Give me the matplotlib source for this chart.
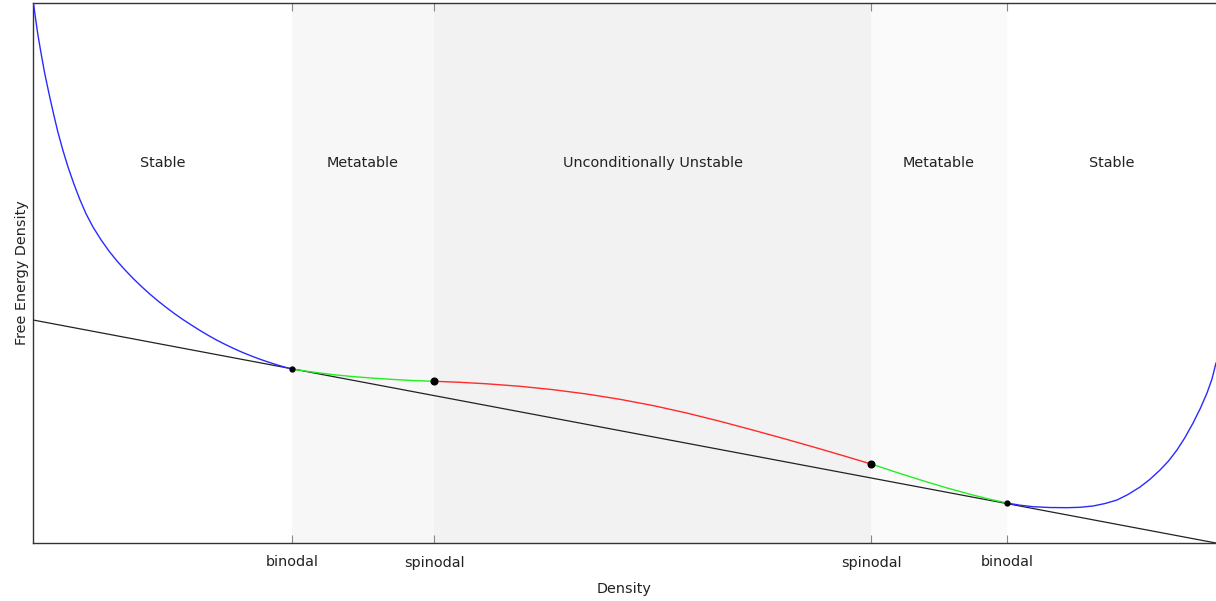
import numpy as np
import matplotlib.pyplot as plt

# ----------------
# DATA
# ----------------

# free energy density vs density, split into stable / metastable / unstable branches
stable_lo_x = [0.0004, 0.0021, 0.0042, 0.0068, 0.0097, 0.0123, 0.0146, 0.0178,
               0.0211, 0.0254, 0.0296, 0.0347, 0.0395, 0.0448, 0.0507, 0.0575,
               0.0642, 0.0710, 0.0778, 0.0845, 0.0917, 0.0989, 0.1059, 0.1130,
               0.1200, 0.1271, 0.1342, 0.1412, 0.1483, 0.1553, 0.1624, 0.1695,
               0.1765, 0.1836, 0.1906, 0.1977, 0.2048, 0.2118, 0.2189]
stable_lo_f = [1.0000, 0.9719, 0.9404, 0.9070, 0.8720, 0.8448, 0.8215, 0.7907,
               0.7604, 0.7263, 0.6963, 0.6641, 0.6367, 0.6098, 0.5852, 0.5615,
               0.5407, 0.5222, 0.5056, 0.4902, 0.4750, 0.4607, 0.4478, 0.4356,
               0.4241, 0.4133, 0.4032, 0.3935, 0.3843, 0.3757, 0.3678, 0.3604,
               0.3535, 0.3472, 0.3413, 0.3359, 0.3309, 0.3263, 0.3222]

meta_lo_x = [0.2189, 0.2358, 0.2527, 0.2697, 0.2866, 0.3035, 0.3204, 0.3390]
meta_lo_f = [0.3222, 0.3167, 0.3120, 0.3083, 0.3054, 0.3030, 0.3009, 0.2995]

unstable_x = [0.3390, 0.3610, 0.3835, 0.4117, 0.4398, 0.4681, 0.4962, 0.5244,
              0.5526, 0.5807, 0.6089, 0.6371, 0.6653, 0.6864, 0.7084]
unstable_f = [0.2995, 0.2976, 0.2948, 0.2902, 0.2839, 0.2759, 0.2661, 0.2544,
              0.2407, 0.2254, 0.2089, 0.1919, 0.1743, 0.1607, 0.1463]

meta_hi_x = [0.7084, 0.7287, 0.7498, 0.7709, 0.7921, 0.8090, 0.8233]
meta_hi_f = [0.1463, 0.1317, 0.1170, 0.1030, 0.0902, 0.0809, 0.0741]

stable_hi_x = [0.8233, 0.8343, 0.8453, 0.8597, 0.8741, 0.8850, 0.8960, 0.9062,
               0.9163, 0.9256, 0.9358, 0.9442, 0.9527, 0.9599, 0.9670, 0.9738,
               0.9806, 0.9865, 0.9924, 0.9966, 1.0000]
stable_hi_f = [0.0741, 0.0700, 0.0672, 0.0657, 0.0654, 0.0661, 0.0685, 0.0731,
               0.0796, 0.0898, 0.1037, 0.1180, 0.1352, 0.1519, 0.1722, 0.1954,
               0.2222, 0.2481, 0.2778, 0.3037, 0.3333]

# common tangent through both binodal points
tangent_x = [0.0, 1.0]
tangent_f = [0.413, 0.0]

binodal_x = [0.2189, 0.8233]
binodal_f = [0.3222, 0.0741]
spinodal_x = [0.3390, 0.7084]
spinodal_f = [0.2995, 0.1463]

tick_pos = [0.2189, 0.3390, 0.7084, 0.8233]
tick_labels = ['binodal', 'spinodal', 'spinodal', 'binodal']

region_edges = [0.0, 0.2189, 0.3390, 0.7084, 0.8233, 1.0]
region_names = ['Stable', 'Metatable', 'Unconditionally Unstable', 'Metatable', 'Stable']
region_colors = ['white', '#f7f7f7', '#f2f2f2', '#fafafa', 'white']

# ----------------
# PLOT
# ----------------

plt.rcParams['font.family'] = 'DejaVu Sans'
plt.rcParams['font.size'] = 10.4

fig = plt.figure(figsize=(12.16, 6.01), dpi=100)
ax = fig.add_axes([33 / 1216, 58 / 601, 1183 / 1216, 540 / 601])

for lo, hi, name, col in zip(region_edges[:-1], region_edges[1:], region_names, region_colors):
    ax.axvspan(lo, hi, color=col, lw=0, zorder=0)
    ax.text((lo + hi) / 2, 0.704, name, ha='center', va='center', color='#222222')

ax.plot(tangent_x, tangent_f, color='#222222', lw=0.9, zorder=2)
ax.plot(stable_lo_x, stable_lo_f, color='#2a2aff', lw=1.0, zorder=3)
ax.plot(meta_lo_x, meta_lo_f, color='#22ee22', lw=1.0, zorder=3)
ax.plot(unstable_x, unstable_f, color='#ff2a2a', lw=1.0, zorder=3)
ax.plot(meta_hi_x, meta_hi_f, color='#22ee22', lw=1.0, zorder=3)
ax.plot(stable_hi_x, stable_hi_f, color='#2a2aff', lw=1.0, zorder=3)

ax.plot(binodal_x, binodal_f, 'o', color='black', ms=3.5, zorder=4)
ax.plot(spinodal_x, spinodal_f, 'o', color='black', ms=4.8, zorder=4)

ax.set_xlim(0, 1)
ax.set_ylim(0, 1)
ax.set_xticks(tick_pos)
ax.set_xticklabels(tick_labels, color='#222222')
ax.set_yticks([])
ax.tick_params(axis='x', direction='in', length=6, width=0.8, color='#888888',
               top=True, pad=9)
ax.spines['right'].set_visible(False)
for side in ('left', 'bottom', 'top'):
    ax.spines[side].set_color('#333333')
    ax.spines[side].set_linewidth(1.0)

ax.set_xlabel('Density', color='#222222', labelpad=9)
ax.set_ylabel('Free Energy Density', color='#222222', labelpad=3)

fig.savefig('out.png', dpi=100)
